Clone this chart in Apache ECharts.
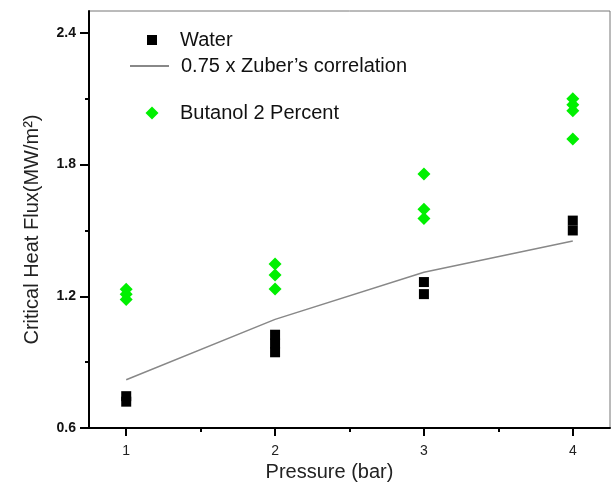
<!DOCTYPE html>
<html>
<head>
<meta charset="utf-8">
<script src="https://cdn.jsdelivr.net/npm/echarts@6/dist/echarts.min.js"></script>
<style>
  html, body { margin: 0; padding: 0; background: #fff; }
  #chart { width: 614px; height: 488px; }
</style>
</head>
<body>
<div id="chart"></div>
<script>
var waterX = [1, 1, 2, 2, 2, 3, 3, 4, 4];
var waterY = [0.72, 0.745, 0.945, 0.985, 1.025, 1.21, 1.265, 1.50, 1.545];

var zuberX = [1, 2, 3, 4];
var zuberY = [0.82, 1.095, 1.31, 1.452];

var butanolX = [1, 1, 1, 2, 2, 2, 3, 3, 3, 4, 4, 4, 4];
var butanolY = [1.232, 1.209, 1.185, 1.347, 1.297, 1.233, 1.757, 1.597, 1.554, 2.10, 2.073, 2.046, 1.917];

var xLabels = [1, 2, 3, 4];
var xMinorTicks = [1.5, 2.5, 3.5];
var yLabels = [0.6, 1.2, 1.8, 2.4];
var yMinorTicks = [0.9, 1.5, 2.1];

function pairs(xs, ys) {
    var out = [];
    for (var i = 0; i < xs.length; i++) {
        out.push([xs[i], ys[i]]);
    }
    return out;
}

var font = 'Liberation Sans, Arial, sans-serif';

var chart = echarts.init(document.getElementById('chart'), null, {renderer: 'canvas'});

function legendText(padLeft) {
    return {fontFamily: font, fontSize: 20, color: '#111', padding: [0, 0, 0, padLeft]};
}

chart.setOption({
    animation: false,
    grid: {
        left: 89, right: 4, top: 11, bottom: 60,
        show: true, borderColor: '#777', borderWidth: 1
    },
    legend: [
        {data: ['Water'], left: 142, top: 25, itemWidth: 10, itemHeight: 10, textStyle: legendText(18)},
        {data: ['0.75 x Zuber\u2019s correlation'], left: 124, top: 51, itemWidth: 39, itemHeight: 10,
         itemStyle: {opacity: 0}, textStyle: legendText(7)},
        {data: ['Butanol 2 Percent'], left: 140.5, top: 98, itemWidth: 13, itemHeight: 13, textStyle: legendText(16.5)}
    ],
    xAxis: [{
        type: 'value', min: 0.75, max: 4.25,
        name: 'Pressure (bar)', nameLocation: 'middle', nameGap: 34,
        nameTextStyle: {fontFamily: font, fontSize: 20, color: '#222', padding: [0, 40, 0, 0]},
        axisLine: {lineStyle: {color: '#000', width: 2}},
        axisTick: {customValues: xLabels, length: 8, lineStyle: {color: '#000', width: 2}},
        axisLabel: {customValues: xLabels, margin: 16, fontFamily: font, fontSize: 14, color: '#222'},
        splitLine: {show: false}
    }, {
        type: 'value', min: 0.75, max: 4.25, position: 'bottom',
        axisLine: {show: false},
        axisTick: {customValues: xMinorTicks, length: 4, lineStyle: {color: '#000', width: 2}},
        axisLabel: {show: false},
        splitLine: {show: false}
    }],
    yAxis: [{
        type: 'value', min: 0.6, max: 2.5,
        name: 'Critical Heat Flux(MW/m\u00b2)', nameLocation: 'middle', nameGap: 47,
        nameTextStyle: {fontFamily: font, fontSize: 20, color: '#222', padding: [0, 20, 0, 0]},
        axisLine: {lineStyle: {color: '#000', width: 2}},
        axisTick: {customValues: yLabels, length: 9, lineStyle: {color: '#000', width: 2}},
        axisLabel: {
            customValues: yLabels, margin: 13, fontFamily: font, fontSize: 14,
            fontWeight: 'bold', color: '#111',
            formatter: function (v) { return v.toFixed(1); }
        },
        splitLine: {show: false}
    }, {
        type: 'value', min: 0.6, max: 2.5, position: 'left',
        axisLine: {show: false},
        axisTick: {customValues: yMinorTicks, length: 4, lineStyle: {color: '#000', width: 2}},
        axisLabel: {show: false},
        splitLine: {show: false}
    }],
    series: [{
        name: 'Water',
        type: 'scatter',
        symbol: 'rect',
        symbolSize: [10, 10],
        itemStyle: {color: '#000', opacity: 1},
        data: pairs(waterX, waterY)
    }, {
        name: '0.75 x Zuber\u2019s correlation',
        type: 'line',
        symbol: 'none',
        lineStyle: {color: '#888', width: 1.5},
        itemStyle: {color: '#888'},
        data: pairs(zuberX, zuberY)
    }, {
        name: 'Butanol 2 Percent',
        type: 'scatter',
        symbol: 'diamond',
        symbolSize: [13, 13],
        itemStyle: {color: '#00f000', opacity: 1},
        data: pairs(butanolX, butanolY)
    }]
});
</script>
</body>
</html>
